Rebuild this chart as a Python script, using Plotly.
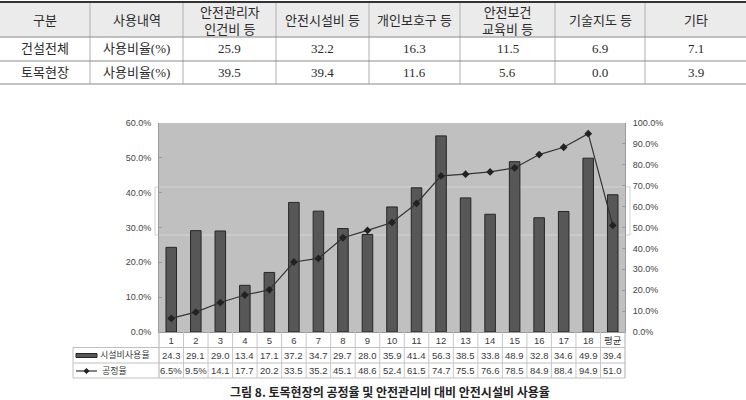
import plotly.graph_objects as go

# ---------------- data ----------------
table_headers = ["구분", "사용내역", "안전관리자<br>인건비 등", "안전시설비 등", "개인보호구 등",
                 "안전보건<br>교육비 등", "기술지도 등", "기타"]
table_row_names = ["건설전체", "토목현장"]
table_usage_label = "사용비율(%)"
all_construction = [25.9, 32.2, 16.3, 11.5, 6.9, 7.1]
civil_site = [39.5, 39.4, 11.6, 5.6, 0.0, 3.9]

categories = [str(i) for i in range(1, 19)] + ["평균"]
facility_rate = [24.3, 29.1, 29.0, 13.4, 17.1, 37.2, 34.7, 29.7, 28.0, 35.9,
                 41.4, 56.3, 38.5, 33.8, 48.9, 32.8, 34.6, 49.9, 39.4]
progress_rate = [6.5, 9.5, 14.1, 17.7, 20.2, 33.5, 35.2, 45.1, 48.6, 52.4,
                 61.5, 74.7, 75.5, 76.6, 78.5, 84.9, 88.4, 94.9, 51.0]
series_names = ["시설비사용율", "공정율"]
caption = "그림 8. 토목현장의 공정율 및 안전관리비 대비 안전시설비 사용율"

# ---------------- geometry (pixels) ----------------
W, H = 746, 400
PL, PR, PT, PB = 159, 625, 123, 332


def px(x):
    return (x - PL) / (PR - PL)


def py(y):
    return (PB - y) / (PB - PT)


fig = go.Figure()
fig.add_trace(go.Bar(x=categories, y=facility_rate, name=series_names[0],
                     marker=dict(color="#575757", line=dict(color="#262626", width=1)),
                     yaxis="y"))
fig.add_trace(go.Scatter(x=categories, y=progress_rate, name=series_names[1], yaxis="y2",
                         mode="lines+markers",
                         line=dict(color="#333333", width=1.2),
                         marker=dict(symbol="diamond", size=6, color="#222222")))

shapes = []
annotations = []

# ---------------- top table ----------------
col_bounds = [0, 90, 183, 276, 369, 460, 555, 645, 746]
row_bounds = [2, 37, 61, 84]
serif = "Liberation Serif, Noto Sans CJK KR, serif"
shapes.append(dict(type="rect", xref="paper", yref="paper", x0=px(0), x1=px(746),
                   y0=py(row_bounds[0]), y1=py(row_bounds[1]),
                   fillcolor="#ebebeb", line=dict(width=0), layer="below"))
for xb in col_bounds[1:-1]:
    shapes.append(dict(type="line", xref="paper", yref="paper", x0=px(xb), x1=px(xb),
                       y0=py(row_bounds[0]), y1=py(row_bounds[-1]),
                       line=dict(color="#b0b0b0", width=1)))
for i, yb in enumerate(row_bounds):
    shapes.append(dict(type="line", xref="paper", yref="paper", x0=px(0), x1=px(746),
                       y0=py(yb), y1=py(yb),
                       line=dict(color="#333333" if i == 0 else "#8a8a8a",
                                 width=2 if i == 0 else 1)))

centers = [(col_bounds[i] + col_bounds[i + 1]) / 2 for i in range(len(col_bounds) - 1)]
for c, txt in zip(centers, table_headers):
    annotations.append(dict(x=px(c), y=py((row_bounds[0] + row_bounds[1]) / 2 + 1),
                            xref="paper", yref="paper", text=txt, showarrow=False,
                            font=dict(family=serif, size=13, color="#2a2a2a"),
                            xanchor="center", yanchor="middle"))
for r, (name, vals) in enumerate(zip(table_row_names, [all_construction, civil_site])):
    yc = (row_bounds[r + 1] + row_bounds[r + 2]) / 2
    cells = [name, table_usage_label] + [f"{v:.1f}" for v in vals]
    for c, txt in zip(centers, cells):
        annotations.append(dict(x=px(c), y=py(yc), xref="paper", yref="paper", text=txt,
                                showarrow=False,
                                font=dict(family=serif, size=13, color="#2a2a2a"),
                                xanchor="center", yanchor="middle"))

# ghost rectangle (scan artifact)
shapes.append(dict(type="rect", xref="paper", yref="paper", x0=px(155), x1=px(630),
                   y0=py(235), y1=py(187), line=dict(color="#d2d2d2", width=1),
                   fillcolor="rgba(0,0,0,0)", layer="below"))

# ---------------- data table under chart ----------------
sans = "Liberation Sans, Noto Sans CJK KR, sans-serif"
n = len(categories)
tbl_rows = [332, 347.5, 363, 378]
for k in range(n + 1):
    shapes.append(dict(type="line", xref="paper", yref="paper", x0=k / n, x1=k / n,
                       y0=py(tbl_rows[0]), y1=py(tbl_rows[-1]),
                       line=dict(color="#c8c8c8" if 0 < k < n else "#b0b0b0", width=1)))
for i, yb in enumerate(tbl_rows[1:]):
    shapes.append(dict(type="line", xref="paper", yref="paper", x0=px(73), x1=1,
                       y0=py(yb), y1=py(yb), line=dict(color="#c0c0c0", width=1)))
shapes.append(dict(type="line", xref="paper", yref="paper", x0=px(73), x1=px(73),
                   y0=py(tbl_rows[1]), y1=py(tbl_rows[-1]), line=dict(color="#c0c0c0", width=1)))

row_texts = [[f"{v:.1f}" for v in facility_rate],
             [(f"{v:.1f}%" if i < 2 else f"{v:.1f}") for i, v in enumerate(progress_rate)]]
for r, texts in enumerate(row_texts):
    yc = (tbl_rows[r + 1] + tbl_rows[r + 2]) / 2
    for i, txt in enumerate(texts):
        annotations.append(dict(x=(i + 0.5) / n, y=py(yc), xref="paper", yref="paper", text=txt,
                                showarrow=False, font=dict(family=sans, size=9.5, color="#3a3a3a"),
                                xanchor="center", yanchor="middle"))
    annotations.append(dict(x=px(98 if r == 0 else 100), y=py(yc), xref="paper", yref="paper",
                            text=series_names[r], showarrow=False,
                            font=dict(family=sans, size=9, color="#3a3a3a"),
                            xanchor="left", yanchor="middle"))

# legend swatches
shapes.append(dict(type="rect", xref="paper", yref="paper", x0=px(76), x1=px(97),
                   y0=py(357.5), y1=py(353.5), fillcolor="#575757",
                   line=dict(color="#262626", width=1)))
shapes.append(dict(type="line", xref="paper", yref="paper", x0=px(76), x1=px(97),
                   y0=py(371), y1=py(371), line=dict(color="#333333", width=1.2)))
dx, dy = 3 / (PR - PL), 3 / (PB - PT)
cxp, cyp = px(86.5), py(371)
shapes.append(dict(type="path", xref="paper", yref="paper",
                   path=f"M {cxp - dx} {cyp} L {cxp} {cyp + dy} L {cxp + dx} {cyp} L {cxp} {cyp - dy} Z",
                   fillcolor="#222222", line=dict(color="#222222", width=0)))

# caption
annotations.append(dict(x=px(390), y=py(391), xref="paper", yref="paper", text=f"<b>{caption}</b>",
                        showarrow=False, font=dict(family="Noto Sans CJK KR, sans-serif", size=12,
                                                    color="#222222"),
                        xanchor="center", yanchor="middle", borderpad=0))

axis_font = dict(family=sans, size=9, color="#444444")
fig.update_layout(
    width=W, height=H, autosize=False,
    margin=dict(l=PL, r=W - PR, t=PT, b=H - PB, pad=0),
    paper_bgcolor="white", plot_bgcolor="#c0c0c0",
    showlegend=False, bargap=0.57,
    xaxis=dict(type="category", showline=True, linecolor="#9a9a9a", ticks="",
               tickfont=dict(family=sans, size=9.5, color="#3a3a3a"), showgrid=False,
               range=[-0.5, n - 0.5]),
    yaxis=dict(range=[0, 60], dtick=10, tickformat=".1f", ticksuffix="%", showgrid=False,
               zeroline=False, showline=True, linecolor="#9a9a9a", ticks="inside", ticklen=3,
               tickcolor="#9a9a9a", tickfont=axis_font, ticklabelstandoff=5),
    yaxis2=dict(range=[0, 100], dtick=10, tickformat=".1f", ticksuffix="%", showgrid=False,
                zeroline=False, showline=True, linecolor="#9a9a9a", ticks="inside", ticklen=3,
                tickcolor="#9a9a9a", tickfont=axis_font, overlaying="y", side="right",
                ticklabelstandoff=5),
    shapes=shapes, annotations=annotations,
)

fig.write_html("out.html")
